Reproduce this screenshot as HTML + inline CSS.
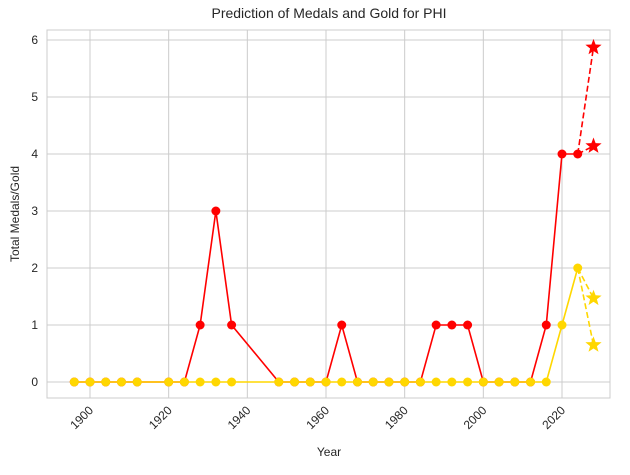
<!DOCTYPE html>
<html><head><meta charset="utf-8"><style>
body{margin:0;background:#fff;font-family:"Liberation Sans",sans-serif;}
svg text{font-family:"Liberation Sans",sans-serif;fill:#262626;}
</style></head><body>
<svg id="c" width="630" height="470">
<text x="329" y="18" text-anchor="middle" font-size="14">Prediction of Medals and Gold for PHI</text>
<text x="329" y="456" text-anchor="middle" font-size="12">Year</text>
<text transform="translate(19,214) rotate(-90)" text-anchor="middle" font-size="12">Total Medals/Gold</text>
</svg>
<script>
const years=[1896,1900,1904,1908,1912,1920,1924,1928,1932,1936,1948,1952,1956,1960,1964,1968,1972,1976,1980,1984,1988,1992,1996,2000,2004,2008,2012,2016,2020,2024];
const medals=[0,0,0,0,0,0,0,1,3,1,0,0,0,0,1,0,0,0,0,0,1,1,1,0,0,0,0,1,4,4];
const gold=[0,0,0,0,0,0,0,0,0,0,0,0,0,0,0,0,0,0,0,0,0,0,0,0,0,0,0,0,1,2];
const predYear=2028;
const medalPreds=[5.87,4.14];
const goldPreds=[1.47,0.65];
const xTicks=[1900,1920,1940,1960,1980,2000,2020];
const yTicks=[0,1,2,3,4,5,6];
const L=47,R=610,T=30,B=398;
const X=v=>90+(v-1900)*(472/120);
const Y=v=>382-v*57;
const svg=document.getElementById('c');
const NS='http://www.w3.org/2000/svg';
function mk(t,a){const e=document.createElementNS(NS,t);for(const k in a)e.setAttribute(k,a[k]);svg.appendChild(e);return e;}
const bg=mk('rect',{x:L,y:T,width:R-L,height:B-T,fill:'#fff',stroke:'#cccccc','stroke-width':1});


xTicks.forEach(t=>{
 const g=mk('line',{x1:X(t),x2:X(t),y1:T,y2:B,stroke:'#cccccc','stroke-width':1});
 
 
 const tx=mk('text',{transform:`translate(${X(t)+4},${B+13}) rotate(-45)`,'text-anchor':'end','font-size':12});
 tx.textContent=t;
 
 
});
yTicks.forEach(t=>{
 const g=mk('line',{x1:L,x2:R,y1:Y(t),y2:Y(t),stroke:'#cccccc','stroke-width':1});
 
 
 const tx=mk('text',{x:L-9,y:Y(t)+4,'text-anchor':'end','font-size':12});
 tx.textContent=t;
 
 
});
function star(cx,cy,r,col,name){
 let p=[];for(let i=0;i<10;i++){const a=-Math.PI/2+i*Math.PI/5;const rr=i%2?r*0.42:r;p.push((cx+rr*Math.cos(a)).toFixed(1)+','+(cy+rr*Math.sin(a)).toFixed(1));}
 const s=mk('polygon',{points:p.join(' '),fill:col});
 
 
}
function series(vals,preds,col,name){
 const last=vals.length-1;
 preds.forEach(pv=>{
  const d=mk('line',{x1:X(years[last]),y1:Y(vals[last]),x2:X(predYear),y2:Y(pv),stroke:col,'stroke-width':1.6,'stroke-dasharray':'6,3'});
  
  
 });
 const pl=mk('polyline',{points:years.map((y,i)=>X(y)+','+Y(vals[i])).join(' '),fill:'none',stroke:col,'stroke-width':1.6});
 
 
 years.forEach((y,i)=>{
  const c=mk('circle',{cx:X(y),cy:Y(vals[i]),r:4.5,fill:col});
  
  
 });
 preds.forEach(pv=>star(X(predYear),Y(pv),8.5,col,name+'-prediction-star'));
}
series(medals,medalPreds,'#ff0000','medals');
series(gold,goldPreds,'#ffd700','gold');
</script>
</body></html>
